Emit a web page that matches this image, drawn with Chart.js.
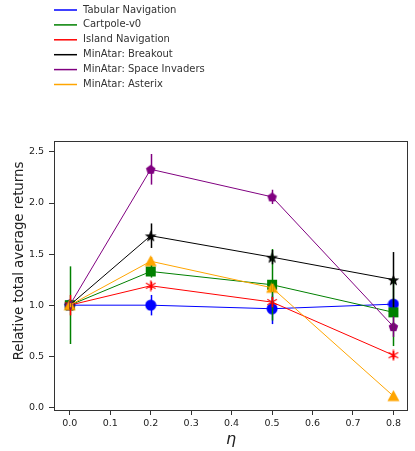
<!DOCTYPE html>
<html>
<head>
<meta charset="utf-8">
<script src="https://cdn.jsdelivr.net/npm/chart.js@4.4.1/dist/chart.umd.min.js"></script>
<style>
  html, body { margin: 0; padding: 0; background: #fff; }
  #wrap { position: relative; width: 415px; height: 451px; }
</style>
</head>
<body>
<div id="wrap"><canvas id="chart" width="415" height="451"></canvas></div>
<script>
// eta values on the x axis
const etas = [0.0, 0.2, 0.5, 0.8];
const xTicks = [0.0, 0.1, 0.2, 0.3, 0.4, 0.5, 0.6, 0.7, 0.8];
const yTicks = [0.0, 0.5, 1.0, 1.5, 2.0, 2.5];

const seriesNames = ['Tabular Navigation', 'Cartpole-v0', 'Island Navigation',
    'MinAtar: Breakout', 'MinAtar: Space Invaders', 'MinAtar: Asterix'];

// mean values
const tabular = [1.0, 1.0, 0.965, 1.01];
const cartpole = [1.0, 1.33, 1.2, 0.93];
const island = [1.0, 1.19, 1.03, 0.51];
const breakout = [1.0, 1.68, 1.47, 1.25];
const invaders = [1.0, 2.33, 2.06, 0.79];
const asterix = [1.0, 1.43, 1.17, 0.11];

// error (half height of the bars)
const tabularErr = [0.02, 0.1, 0.15, 0.05];
const cartpoleErr = [0.38, 0.06, 0.35, 0.33];
const islandErr = [0.1, 0.04, 0.05, 0.04];
const breakoutErr = [0.04, 0.12, 0.07, 0.27];
const invadersErr = [0.04, 0.15, 0.07, 0.1];
const asterixErr = [0.02, 0.04, 0.04, 0.02];

const colors = ['#0000ff', '#008000', '#ff0000', '#000000', '#800080', '#ffa500'];

function makeMarker(shape, color, size) {
    const c = document.createElement('canvas');
    c.width = size; c.height = size;
    const g = c.getContext('2d');
    const r = size / 2;
    g.fillStyle = color;
    g.strokeStyle = color;
    g.beginPath();
    if (shape === 'circle') {
        g.arc(r, r, r - 0.5, 0, Math.PI * 2);
        g.fill();
    } else if (shape === 'square') {
        g.fillRect(1, 1, size - 2, size - 2);
    } else if (shape === 'triangle') {
        g.moveTo(r, 0.5);
        g.lineTo(size - 0.5, size - 1.5);
        g.lineTo(0.5, size - 1.5);
        g.closePath();
        g.fill();
    } else if (shape === 'pentagon') {
        for (let k = 0; k < 5; k++) {
            const a = -Math.PI / 2 + k * 2 * Math.PI / 5;
            g.lineTo(r + (r - 0.5) * Math.cos(a), r + 0.5 + (r - 0.5) * Math.sin(a));
        }
        g.closePath();
        g.fill();
    } else if (shape === 'star') {
        for (let k = 0; k < 10; k++) {
            const a = -Math.PI / 2 + k * Math.PI / 5;
            const rr = k % 2 === 0 ? r - 0.3 : (r - 0.3) * 0.42;
            g.lineTo(r + rr * Math.cos(a), r + 0.8 + rr * Math.sin(a));
        }
        g.closePath();
        g.fill();
    } else if (shape === 'asterisk') {
        g.lineWidth = 1.2;
        for (let k = 0; k < 6; k++) {
            const a = -Math.PI / 2 + k * Math.PI / 3;
            g.moveTo(r, r);
            g.lineTo(r + (r - 0.5) * Math.cos(a), r + (r - 0.5) * Math.sin(a));
        }
        g.stroke();
    }
    return c;
}

function pts(vals) {
    return vals.map((v, i) => ({ x: etas[i], y: v }));
}

const allVals = [tabular, cartpole, island, breakout, invaders, asterix];
const allErrs = [tabularErr, cartpoleErr, islandErr, breakoutErr, invadersErr, asterixErr];
const markers = [
    makeMarker('circle', colors[0], 12),
    makeMarker('square', colors[1], 12),
    makeMarker('asterisk', colors[2], 12),
    makeMarker('star', colors[3], 13),
    makeMarker('pentagon', colors[4], 11),
    makeMarker('triangle', colors[5], 13)
];

const datasets = seriesNames.map((name, i) => ({
    label: name,
    data: pts(allVals[i]),
    errs: allErrs[i],
    borderColor: colors[i],
    backgroundColor: colors[i],
    borderWidth: 1,
    pointStyle: markers[i],
    pointRadius: 6,
    pointHoverRadius: 6,
    order: 5 - i,
    tension: 0
}));

// error bars
const errorBars = {
    id: 'errorBars',
    afterDatasetsDraw(chart) {
        const ctx = chart.ctx;
        const xs = chart.scales.x, ys = chart.scales.y;
        ctx.save();
        chart.data.datasets.forEach((ds) => {
            ctx.strokeStyle = ds.borderColor;
            ctx.lineWidth = 1.5;
            ds.data.forEach((p, j) => {
                const e = ds.errs[j];
                const px = Math.round(xs.getPixelForValue(p.x)) + 0.5;
                ctx.beginPath();
                ctx.moveTo(px, ys.getPixelForValue(p.y - e));
                ctx.lineTo(px, ys.getPixelForValue(p.y + e));
                ctx.stroke();
            });
        });
        ctx.restore();
    }
};

// frame around the plot, y title and the legend up top
const frameAndLegend = {
    id: 'frameAndLegend',
    afterDraw(chart) {
        const ctx = chart.ctx;
        const a = chart.chartArea;
        ctx.save();
        ctx.strokeStyle = '#333';
        ctx.lineWidth = 1;
        ctx.strokeRect(Math.round(a.left) + 0.5, Math.round(a.top) + 0.5,
            Math.round(a.right - a.left) - 1, Math.round(a.bottom - a.top));

        ctx.save();
        ctx.translate(20, 261);
        ctx.rotate(-Math.PI / 2);
        ctx.font = '13.3px "DejaVu Sans"';
        ctx.fillStyle = '#222';
        ctx.textAlign = 'center';
        ctx.textBaseline = 'middle';
        ctx.fillText('Relative total average returns', 0, 0);
        ctx.restore();

        ctx.font = '10px "DejaVu Sans"';
        ctx.textBaseline = 'middle';
        seriesNames.forEach((name, i) => {
            const y = 10 + i * 14.9;
            ctx.strokeStyle = colors[i];
            ctx.lineWidth = 1.5;
            ctx.beginPath();
            ctx.moveTo(54, y);
            ctx.lineTo(77, y);
            ctx.stroke();
            ctx.fillStyle = '#333';
            ctx.fillText(name, 83, y);
        });
        ctx.restore();
    }
};

new Chart(document.getElementById('chart'), {
    type: 'line',
    data: { datasets: datasets },
    options: {
        responsive: false,
        animation: false,
        layout: { padding: { top: 141, right: 1, left: 0, bottom: 0 } },
        plugins: { legend: { display: false }, tooltip: { enabled: false } },
        scales: {
            x: {
                type: 'linear',
                min: -0.039,
                max: 0.836,
                afterBuildTicks: (s) => { s.ticks = xTicks.map(v => ({ value: v })); },
                afterFit: (s) => { s.height = 41; },
                grid: { drawOnChartArea: false, drawTicks: true, tickLength: 5, color: '#333' },
                border: { display: false },
                ticks: {
                    font: { family: 'DejaVu Sans', size: 9.5 }, color: '#222', padding: 3,
                    maxRotation: 0, callback: (v) => v.toFixed(1)
                },
                title: {
                    display: true, text: 'η', color: '#222',
                    font: { family: 'DejaVu Sans', size: 16, style: 'italic' },
                    padding: { top: 0, bottom: 2 }
                }
            },
            y: {
                min: -0.026,
                max: 2.607,
                afterBuildTicks: (s) => { s.ticks = yTicks.map(v => ({ value: v })); },
                afterFit: (s) => { s.width = 54; },
                grid: { drawOnChartArea: false, drawTicks: true, tickLength: 5, color: '#333' },
                border: { display: false },
                ticks: {
                    font: { family: 'DejaVu Sans', size: 9.5 }, color: '#222', padding: 5,
                    callback: (v) => v.toFixed(1)
                },
                title: { display: false }
            }
        }
    },
    plugins: [errorBars, frameAndLegend]
});
</script>
</body>
</html>
